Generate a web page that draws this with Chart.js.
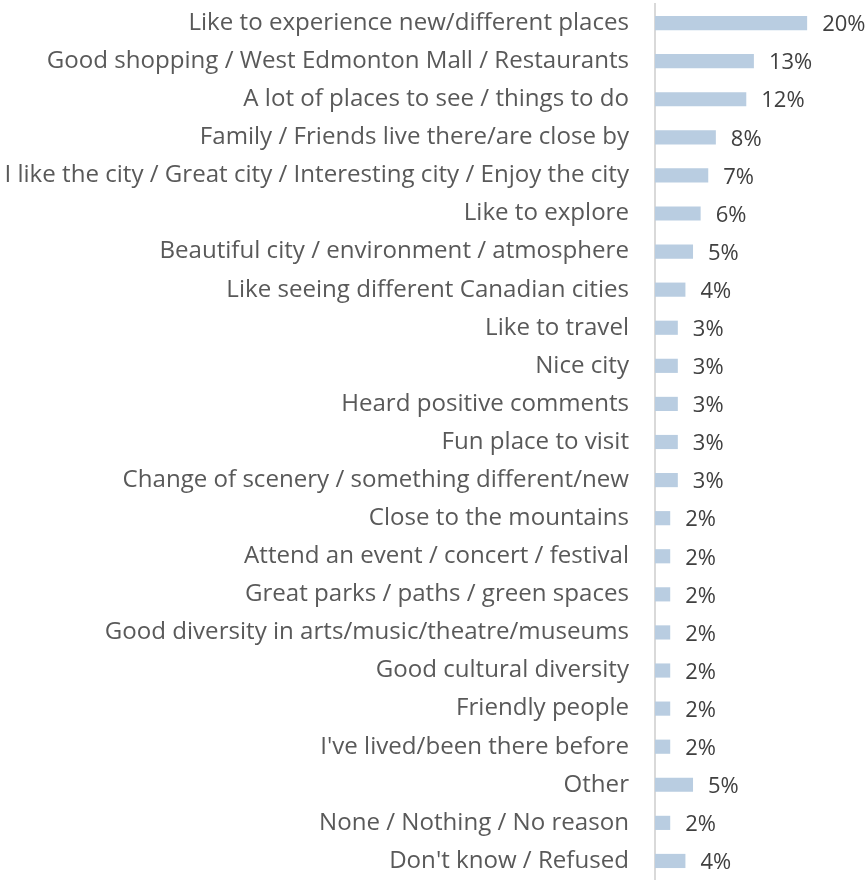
<!DOCTYPE html>
<html lang="en">
<head>
    <meta charset="UTF-8">
    <title>Reasons to visit</title>
    <script src="https://cdn.jsdelivr.net/npm/chart.js"></script>
    <style>
        html, body { margin: 0; padding: 0; background: #fff; }
        #wrap { width: 868px; height: 880px; }
    </style>
</head>
<body>
    <div id="wrap"><canvas id="reasonChart"></canvas></div>

    <script>
        const reasons = [
            'Like to experience new/different places',
            'Good shopping / West Edmonton Mall / Restaurants',
            'A lot of places to see / things to do',
            'Family / Friends live there/are close by',
            'I like the city / Great city / Interesting city / Enjoy the city',
            'Like to explore',
            'Beautiful city / environment / atmosphere',
            'Like seeing different Canadian cities',
            'Like to travel',
            'Nice city',
            'Heard positive comments',
            'Fun place to visit',
            'Change of scenery / something different/new',
            'Close to the mountains',
            'Attend an event / concert / festival',
            'Great parks / paths / green spaces',
            'Good diversity in arts/music/theatre/museums',
            'Good cultural diversity',
            'Friendly people',
            "I've lived/been there before",
            'Other',
            'None / Nothing / No reason',
            "Don't know / Refused"
        ];
        const percents = [20, 13, 12, 8, 7, 6, 5, 4, 3, 3, 3, 3, 3, 2, 2, 2, 2, 2, 2, 2, 5, 2, 4];

        const FONT = '"Open Sans", Lato, sans-serif';

        // pick a font size so the longest label just fills the space left of the axis
        const probe = document.createElement('canvas').getContext('2d');
        probe.font = '20px ' + FONT;
        const longest = Math.max(...reasons.map(r => probe.measureText(r).width));
        const fontSize = Math.floor(200 * 626 / longest) / 10;

        // value labels to the right of each bar
        const valueLabels = {
            id: 'valueLabels',
            afterDatasetsDraw(chart) {
                const ctx = chart.ctx;
                const meta = chart.getDatasetMeta(0);
                ctx.save();
                ctx.font = '22px ' + FONT;
                ctx.fillStyle = '#404040';
                ctx.textAlign = 'left';
                ctx.textBaseline = 'middle';
                meta.data.forEach((bar, i) => {
                    ctx.fillText(percents[i] + '%', bar.x + 15, bar.y + 2);
                });
                ctx.restore();
            }
        };

        new Chart(document.getElementById('reasonChart'), {
            type: 'bar',
            data: {
                labels: reasons,
                datasets: [{
                    data: percents,
                    backgroundColor: '#b9cde1',
                    borderWidth: 0,
                    barPercentage: 0.62,
                    categoryPercentage: 0.6
                }]
            },
            options: {
                indexAxis: 'y',
                responsive: true,
                maintainAspectRatio: false,
                animation: false,
                layout: { padding: { top: 4, right: 0, bottom: 0, left: 0 } },
                plugins: {
                    legend: { display: false },
                    tooltip: { enabled: false }
                },
                scales: {
                    x: {
                        display: false,
                        min: 0,
                        max: 28
                    },
                    y: {
                        afterFit(scale) {
                            scale.width = 655;
                            scale.paddingTop = 0;
                            scale.paddingBottom = 0;
                        },
                        grid: { display: true, drawOnChartArea: false, drawTicks: false },
                        border: { display: true, color: '#d9d9d9', width: 2 },
                        ticks: {
                            padding: 26,
                            color: '#595959',
                            font: { family: FONT, size: fontSize },
                            autoSkip: false
                        }
                    }
                }
            },
            plugins: [valueLabels]
        });
    </script>
</body>
</html>
